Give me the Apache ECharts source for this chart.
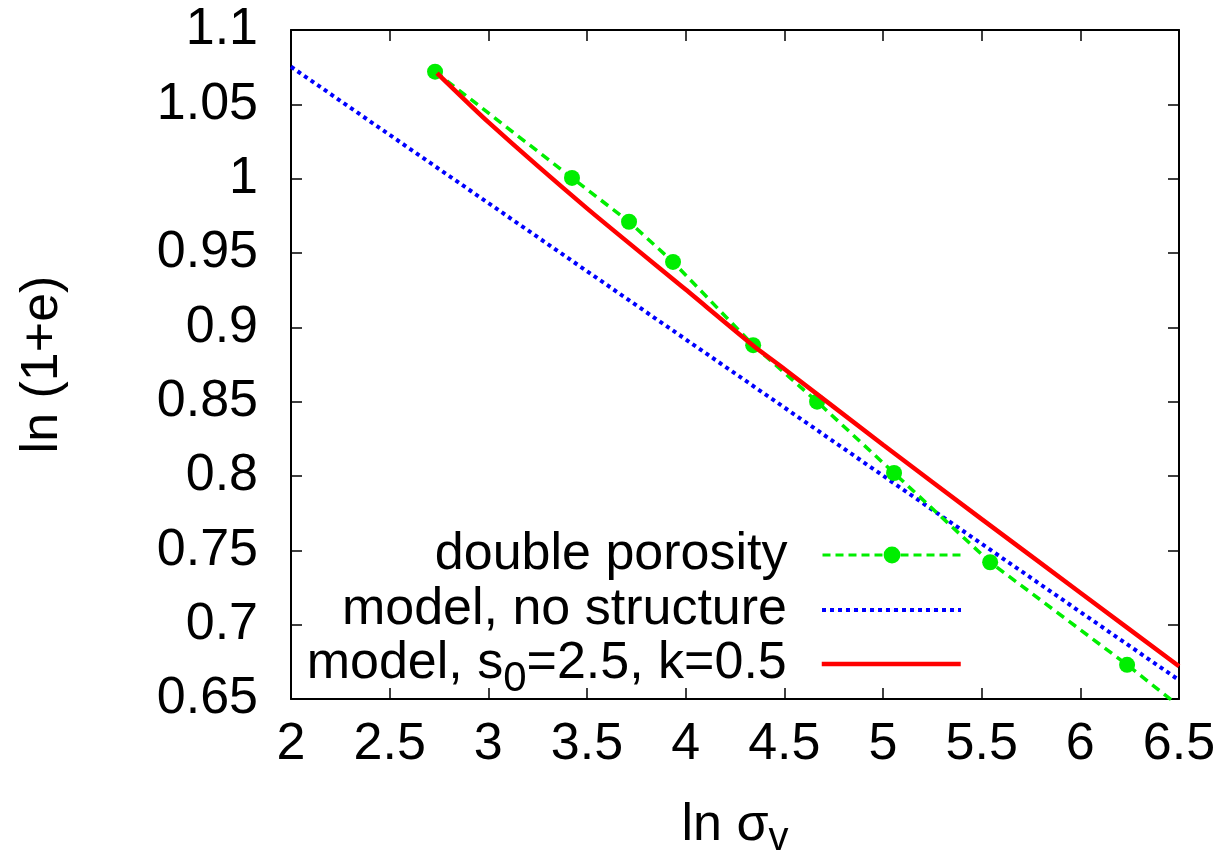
<!DOCTYPE html>
<html>
<head>
<meta charset="utf-8">
<script src="https://cdn.jsdelivr.net/npm/echarts@6/dist/echarts.min.js"></script>
<style>html,body{margin:0;padding:0;background:#fff}#c{width:1228px;height:864px}</style>
</head>
<body>
<div id="c"></div>
<script>
// ---- data ----
const doublePorosityX = [2.730, 3.424, 3.713, 3.936, 4.342, 4.666, 5.056, 5.543, 6.237, 6.93];
const doublePorosityY = [1.072, 1.0005, 0.971, 0.944, 0.888, 0.850, 0.802, 0.742, 0.673, 0.600];
const noStructureX = [2.0, 6.5];
const noStructureY = [1.0753, 0.6627];
const structuredX = [2.74, 3.0, 3.5, 4.0, 4.34, 4.5, 5.0, 5.5, 6.0, 6.5];
const structuredY = [1.071, 1.038, 0.980, 0.9254, 0.888, 0.872, 0.821, 0.771, 0.7215, 0.672];
const xTicks = [2, 2.5, 3, 3.5, 4, 4.5, 5, 5.5, 6, 6.5];
const yTicks = [0.65, 0.7, 0.75, 0.8, 0.85, 0.9, 0.95, 1, 1.05, 1.1];
const seriesNames = ['double porosity', 'model, no structure', 'model, s0=2.5, k=0.5'];

const zip = (xs, ys) => xs.map((x, i) => [x, ys[i]]);
const FONT = '"Liberation Sans", Arial, sans-serif';
const FS = 52;
const GREEN = '#00ee00', BLUE = '#0000ff', RED = '#ff0000';

const chart = echarts.init(document.getElementById('c'));
const axisCommon = {
  axisLine: { show: true, onZero: false, lineStyle: { color: '#000', width: 2 } },
  axisTick: { show: true, inside: true, length: 11, lineStyle: { color: '#000', width: 1.5 } },
  splitLine: { show: false }
};
const legendCommon = {
  orient: 'vertical', align: 'right', right: 265, itemWidth: 139, itemHeight: 18,
  itemGap: 0, padding: 0, selectedMode: false,
  textStyle: { fontFamily: FONT, fontSize: FS, color: '#000', lineHeight: 56, padding: [0, 30, 0, 0],
    rich: { sub: { fontFamily: FONT, fontSize: 42, color: '#000', padding: [30, 0, 0, 0] } } }
};
chart.setOption({
  animation: false,
  grid: { left: 291, right: 49, top: 30, bottom: 160, containLabel: false, show: false },
  xAxis: [
    Object.assign({}, axisCommon, {
      type: 'value', min: xTicks[0], max: xTicks[xTicks.length - 1], interval: 0.5,
      position: 'bottom',
      axisLabel: { fontFamily: FONT, fontSize: FS, color: '#000', margin: 20 },
      name: 'ln σ{sub|v}', nameLocation: 'middle', nameGap: 94,
      nameTextStyle: { fontFamily: FONT, fontSize: FS, color: '#000',
        rich: { sub: { fontFamily: FONT, fontSize: 40, color: '#000', padding: [26, 0, 0, 0] } } }
    }),
    Object.assign({}, axisCommon, {
      type: 'value', min: xTicks[0], max: xTicks[xTicks.length - 1], interval: 0.5,
      position: 'top', axisLabel: { show: false }
    })
  ],
  yAxis: [
    Object.assign({}, axisCommon, {
      type: 'value', min: yTicks[0], max: yTicks[yTicks.length - 1], interval: 0.05,
      position: 'left',
      axisLabel: { fontFamily: FONT, fontSize: FS, color: '#000', margin: 33,
        formatter: v => String(+v.toFixed(2)) },
      name: 'ln (1+e)', nameLocation: 'middle', nameGap: 222, nameRotate: 90,
      nameTextStyle: { fontFamily: FONT, fontSize: FS, color: '#000' }
    }),
    Object.assign({}, axisCommon, {
      type: 'value', min: yTicks[0], max: yTicks[yTicks.length - 1], interval: 0.05,
      position: 'right', axisLabel: { show: false }
    })
  ],
  legend: [
    Object.assign({}, legendCommon, { top: 527, itemHeight: 21, data: [seriesNames[0]],
      lineStyle: { color: GREEN, width: 3, type: [8, 5] } }),
    Object.assign({}, legendCommon, { top: 582, data: [seriesNames[1]],
      itemStyle: { color: 'rgba(0,0,0,0)', borderWidth: 0, opacity: 0 },
      lineStyle: { color: BLUE, width: 4, type: [4, 4], opacity: 1 } }),
    Object.assign({}, legendCommon, { top: 636, data: [seriesNames[2]],
      itemStyle: { color: 'rgba(0,0,0,0)', borderWidth: 0, opacity: 0 },
      lineStyle: { color: RED, width: 4.5, opacity: 1 },
      formatter: () => 'model, s{sub|0}=2.5, k=0.5' })
  ],
  series: [
    {
      name: seriesNames[0], type: 'line', data: zip(doublePorosityX, doublePorosityY),
      symbol: 'circle', symbolSize: 16, showSymbol: true, clip: true,
      lineStyle: { color: GREEN, width: 3.5, type: [9, 6] },
      itemStyle: { color: GREEN }, z: 3
    },
    {
      name: seriesNames[1], type: 'line', data: zip(noStructureX, noStructureY),
      symbol: 'none', clip: true,
      lineStyle: { color: BLUE, width: 4, type: [4, 4] },
      itemStyle: { color: BLUE }, z: 2
    },
    {
      name: seriesNames[2], type: 'line', data: zip(structuredX, structuredY),
      symbol: 'none', smooth: 0.2, clip: true,
      lineStyle: { color: RED, width: 4.5 },
      itemStyle: { color: RED }, z: 4
    }
  ]
});
</script>
</body>
</html>
